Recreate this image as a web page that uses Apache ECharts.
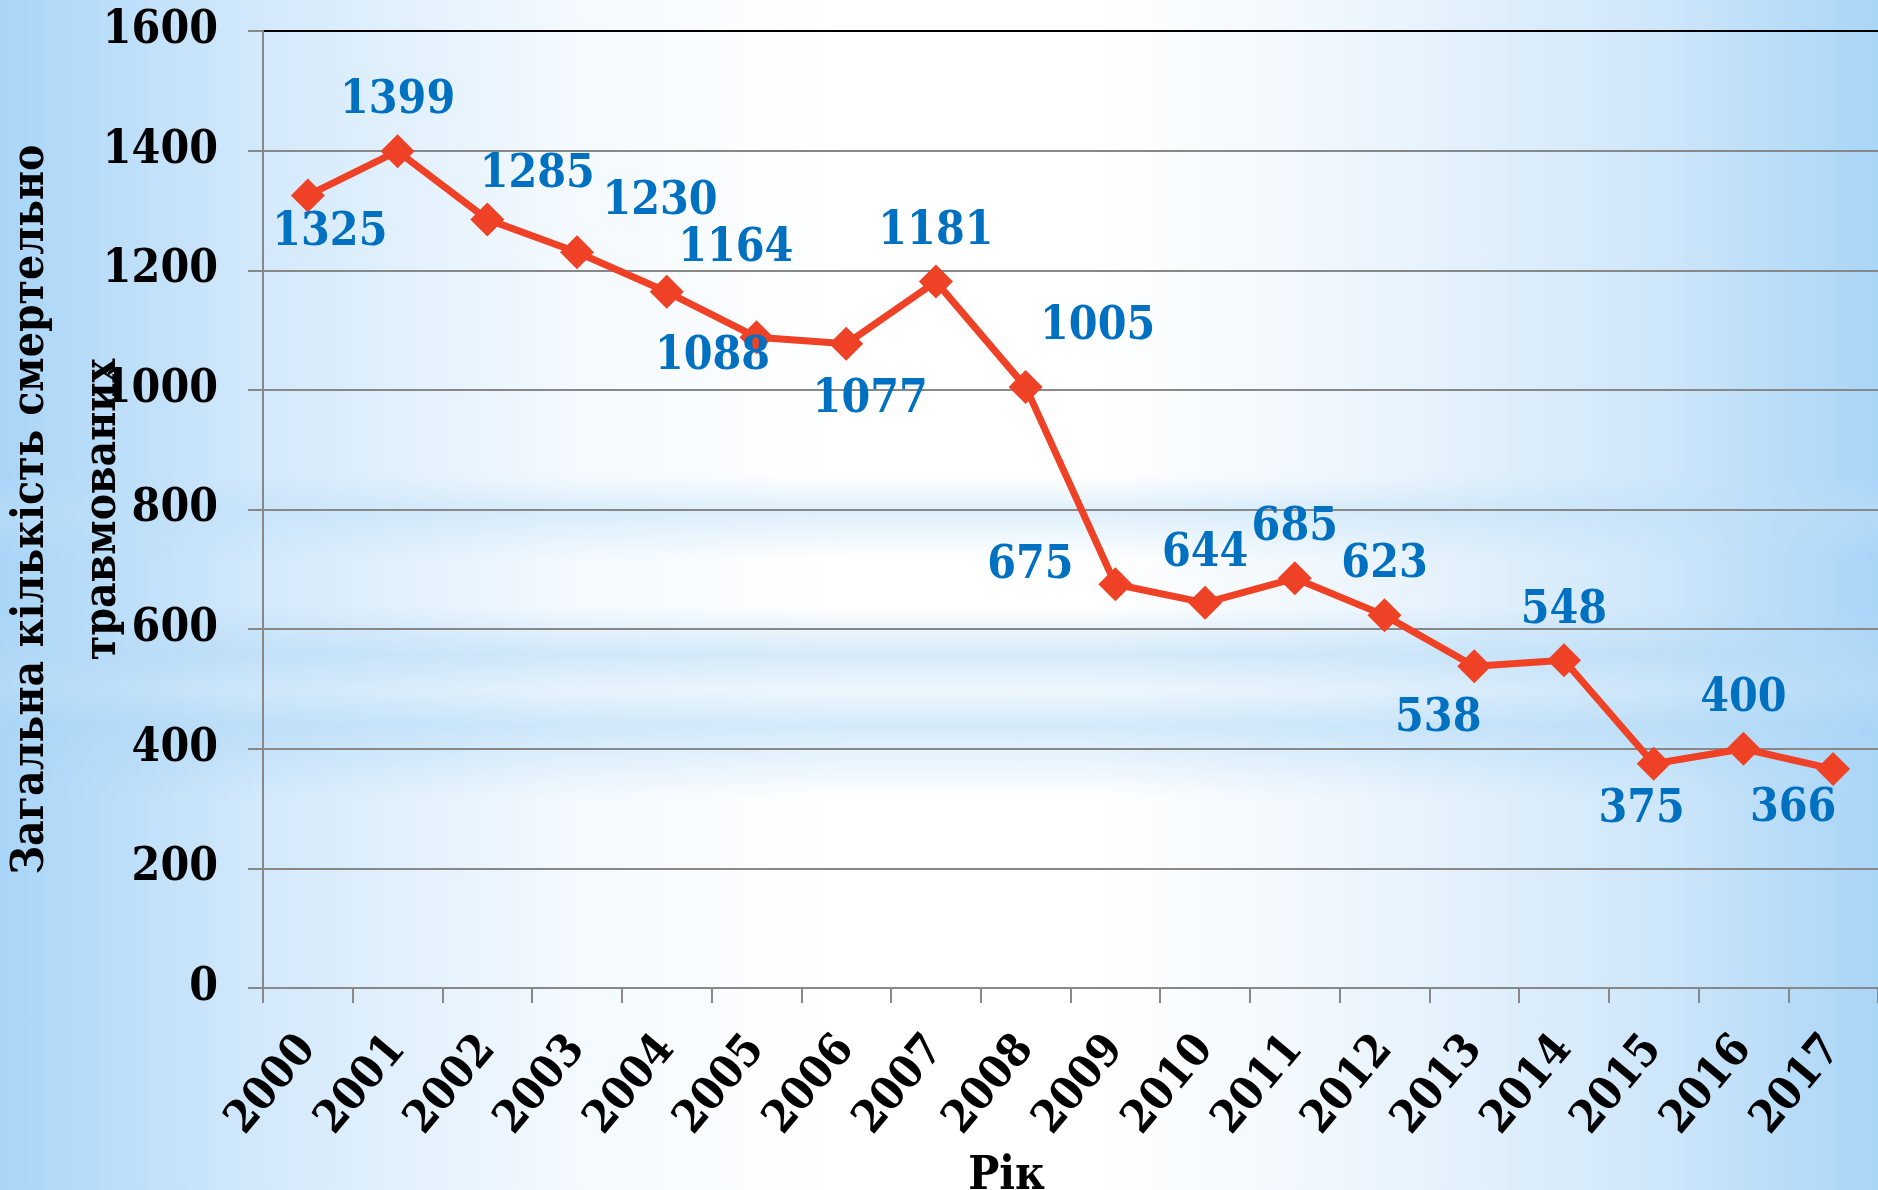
<!DOCTYPE html>
<html>
<head>
<meta charset="utf-8">
<script src="https://cdn.jsdelivr.net/npm/echarts@6/dist/echarts.min.js"></script>
<style>
html,body{margin:0;padding:0;}
body{
	width:1878px;height:1190px;overflow:hidden;
	background:
		linear-gradient(180deg, rgba(255,255,255,0) 0%, rgba(255,255,255,0) 40%, rgba(190,224,248,0.5) 43%, rgba(255,255,255,0) 47%, rgba(255,255,255,0) 51%, rgba(180,218,246,0.55) 55%, rgba(200,228,248,0.3) 58%, rgba(170,214,246,0.5) 61%, rgba(255,255,255,0) 67%, rgba(255,255,255,0) 100%),
		linear-gradient(90deg, #a9d5f7 0%, #d3e9fb 14%, #f3f9fe 30%, #ffffff 45%, #ffffff 58%, #eef6fd 72%, #cfe7fa 88%, #a9d5f7 100%);
}
#section_chart{width:1878px;height:1190px;}
</style>
</head>
<body>
<div id="section_chart"></div>
<script>
let years=["2000","2001","2002","2003","2004","2005","2006","2007","2008","2009","2010","2011","2012","2013","2014","2015","2016","2017"];
let deaths=[1325,1399,1285,1230,1164,1088,1077,1181,1005,675,644,685,623,538,548,375,400,366];
let y_ticks=[0,200,400,600,800,1000,1200,1400,1600];

// where each value label sits relative to its point (px)
let label_offsets=[[22,38],[0,-50],[50,-44],[83,-50],[69,-43],[-44,20],[24,56],[0,-50],[72,-60],[-85,-18],[0,-49],[0,-50],[0,-50],[-36,53],[0,-49],[-12,46],[0,-50],[-40,40]];

let font="'DejaVu Serif Condensed','DejaVu Serif',serif";

let line_echart=echarts.init(document.getElementById('section_chart'));

line_echart.setOption({
	animation:false,
	grid:{
		left:263,
		right:0,
		top:31,
		bottom:202,
		containLabel:false,
		outerBoundsMode:"none",
	},
	xAxis:{
		type:"category",
		data:years,
		boundaryGap:true,
		name:"Рік",
		nameLocation:"middle",
		nameGap:166,
		nameMoveOverlap:false,
		nameTextStyle:{
			fontFamily:font,
			fontWeight:"bold",
			fontSize:46,
			color:"#000",
			padding:[0,128,0,0],
		},
		axisLine:{
			lineStyle:{color:"#888",width:2},
		},
		axisTick:{
			show:true,
			interval:0,
			length:15,
			lineStyle:{color:"#888",width:2},
		},
		axisLabel:{
			interval:0,
			rotate:50,
			margin:54,
			fontFamily:font,
			fontWeight:"bold",
			fontSize:45,
			color:"#000",
		},
	},
	yAxis:{
		type:"value",
		min:y_ticks[0],
		max:y_ticks[y_ticks.length-1],
		interval:200,
		name:"Загальна кількість смертельно\nтравмованих",
		nameLocation:"middle",
		nameRotate:90,
		nameGap:123,
		nameMoveOverlap:false,
		nameTextStyle:{
			fontFamily:font,
			fontWeight:"bold",
			fontSize:44,
			lineHeight:72,
			color:"#000",
		},
		axisLine:{
			show:true,
			lineStyle:{color:"#888",width:2},
		},
		axisTick:{
			show:true,
			length:15,
			lineStyle:{color:"#888",width:2},
		},
		axisLabel:{
			margin:45,
			fontFamily:font,
			fontWeight:"bold",
			fontSize:46,
			color:"#000",
			formatter:function(v){return String(v);},
		},
		splitLine:{
			show:true,
			lineStyle:{
				color:["#888","#888","#888","#888","#888","#888","#888","#888","#000"],
				width:2,
			},
		},
	},
	series:{
		type:"line",
		data:deaths.map(function(v,i){
			return {value:v,label:{offset:label_offsets[i]}};
		}),
		symbol:"diamond",
		symbolSize:[34,34],
		itemStyle:{
			color:"#ee4125",
		},
		lineStyle:{
			color:"#ee4125",
			width:7,
		},
		label:{
			show:true,
			position:"inside",
			fontFamily:font,
			fontWeight:"bold",
			fontSize:46,
			color:"#0070c0",
		},
	},
});
</script>
</body>
</html>
